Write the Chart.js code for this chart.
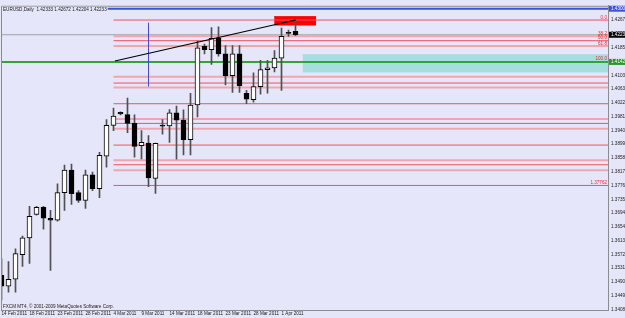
<!DOCTYPE html>
<html>
<head>
<meta charset="utf-8">
<style>
  html, body { margin: 0; padding: 0; background: #e6e6fa; }
  canvas { display: block; }
</style>
</head>
<body>
<canvas id="myChart" width="625" height="318"></canvas>
<script src="https://cdn.jsdelivr.net/npm/chart.js"></script>
<script>
// EURUSD daily, FXCM feed (sunday bars included), 14 Feb 2011 .. 4 Apr 2011
const opens  = [1.35095, 1.34773, 1.34978, 1.35708, 1.36205, 1.36906, 1.37111, 1.36789, 1.36731, 1.37549,
                1.38221, 1.37549, 1.37315, 1.38075, 1.37666, 1.38630, 1.39544, 1.39930, 1.39865, 1.39603,
                1.38942, 1.39018, 1.37967, 1.39527, 1.39527, 1.39915, 1.39702, 1.39118, 1.40149, 1.41893,
                1.41794, 1.42135, 1.41668, 1.41016, 1.41668, 1.40499, 1.40304, 1.40695, 1.41200, 1.41250,
                1.41542, 1.42281, 1.42333];
const highs  = [1.35591, 1.35504, 1.35884, 1.36263, 1.37140, 1.37140, 1.37140, 1.37023, 1.37812, 1.38367,
                1.38396, 1.37607, 1.38221, 1.38162, 1.38746, 1.39719, 1.40061, 1.39944, 1.40353, 1.39857,
                1.39389, 1.39243, 1.39020, 1.39719, 1.40012, 1.40120, 1.40003, 1.40499, 1.42048, 1.41960,
                1.42448, 1.42465, 1.41910, 1.41910, 1.41910, 1.40587, 1.41104, 1.41472, 1.41472, 1.41764,
                1.42428, 1.42369, 1.42672];
const lows   = [1.34364, 1.34598, 1.34598, 1.35358, 1.35445, 1.36877, 1.36468, 1.35241, 1.36702, 1.37023,
                1.37198, 1.37257, 1.37081, 1.37607, 1.37403, 1.38308, 1.39389, 1.39857, 1.39331, 1.38600,
                1.38551, 1.37724, 1.37528, 1.39281, 1.39039, 1.38542, 1.38668, 1.38668, 1.39798, 1.41668,
                1.41355, 1.41601, 1.40742, 1.40520, 1.40520, 1.40187, 1.40236, 1.40470, 1.40499, 1.41133,
                1.40578, 1.42185, 1.42204];
const closes = [1.34773, 1.34978, 1.35738, 1.36205, 1.36848, 1.37111, 1.36789, 1.36731, 1.37549, 1.38221,
                1.37520, 1.37315, 1.38075, 1.37666, 1.38659, 1.39544, 1.39819, 1.39886, 1.39603, 1.38922,
                1.39039, 1.37987, 1.39009, 1.39521, 1.39915, 1.39702, 1.39118, 1.40149, 1.41843, 1.41794,
                1.42127, 1.41668, 1.41016, 1.41668, 1.40724, 1.40324, 1.40695, 1.41200, 1.41250, 1.41542,
                1.42185, 1.42276, 1.42233];

// one date label every 4 bars
const dateLabels = ['14 Feb 2011', '18 Feb 2011', '23 Feb 2011', '28 Feb 2011', '4 Mar 2011', '9 Mar 2011',
                    '14 Mar 2011', '18 Mar 2011', '23 Mar 2011', '28 Mar 2011', '1 Apr 2011'];
const priceTicks = [1.4267, 1.4226, 1.4185, 1.4144, 1.4103, 1.4063, 1.4022, 1.3981, 1.3940, 1.3899, 1.3858,
                    1.3817, 1.3776, 1.3735, 1.3694, 1.3654, 1.3613, 1.3572, 1.3531, 1.3490, 1.3449, 1.3408];

// drawn objects
const redLevels  = [1.42670, 1.42057, 1.40800, 1.40187, 1.39603, 1.38960, 1.38376, 1.37762];
const pinkLevels = [1.42188, 1.41896, 1.40990, 1.40669, 1.39734, 1.39442, 1.38507, 1.38215];
const fibLevels  = [1.42670, 1.42188, 1.42057, 1.41896, 1.41428];
const fibNames   = ['0.0', '38.2', '50.0', '61.8', '100.0'];
const levelStart = 16;          // bar index where the levels start
const supportPrice = 1.37762;
const bidPrice   = 1.42233;
const bluePrice  = 1.43006;
const greenPrice = 1.41428;
const trendLine  = [[16.2, 1.41455], [42, 1.42672]];
const blueVLine  = [21, 1.40695, 1.42594];      // bar, low, high
const redBox     = [38.95, 44.95, 1.42507, 1.42770];
const tealBox    = [43.0, 90, 1.41113, 1.41639];

const header = 'EURUSD,Daily  1.42333 1.42672 1.42204 1.42233';
const copyright = 'FXCM MT4, \u00A9 2001-2009 MetaQuotes Software Corp.';

const xMin = -0.0714;
const xMax = 86.643;
const yMin = 1.340665;
const yMax = 1.430936;

const FONT = '"Liberation Sans", Arial, sans-serif';
Chart.defaults.font.family = FONT;
Chart.defaults.font.size = 4.6;
Chart.defaults.color = '#202020';

const idx = opens.map((_, i) => i);

function hline(v, x0, x1, color, w, order) {
    return { type: 'line', data: [{x: x0, y: v}, {x: x1, y: v}], borderColor: color,
             borderWidth: w, pointRadius: 0, fill: false, order: order };
}
function box(b, color) {
    return { type: 'line', data: [{x: b[0], y: b[3]}, {x: b[1], y: b[3]}], fill: {value: b[2]},
             backgroundColor: color, borderColor: color, borderWidth: 1, pointRadius: 0, order: 30 };
}

const datasets = [];
datasets.push({
    label: 'body', type: 'bar', grouped: false, order: 1,
    data: idx.map(i => ({x: i, y: [opens[i], closes[i]]})),
    backgroundColor: idx.map(i => closes[i] >= opens[i] ? '#ffffff' : '#000000'),
    borderColor: '#000000', borderWidth: 1, borderSkipped: false, barThickness: 5, minBarLength: 1
});
datasets.push({
    label: 'wick', type: 'bar', grouped: false, order: 2,
    data: idx.map(i => ({x: i, y: [lows[i], highs[i]]})),
    backgroundColor: '#505050', borderWidth: 0, barThickness: 1
});
datasets.push({ type: 'line', data: trendLine.map(p => ({x: p[0], y: p[1]})), borderColor: '#000000',
                borderWidth: 1.2, pointRadius: 0, fill: false, order: 0 });
datasets.push({ type: 'line', data: [{x: blueVLine[0], y: blueVLine[1]}, {x: blueVLine[0], y: blueVLine[2]}],
                borderColor: '#4646c8', borderWidth: 1, pointRadius: 0, fill: false, order: 0 });
redLevels.forEach(v => datasets.push(hline(v, levelStart, xMax, '#f0505a', 1, 10)));
pinkLevels.forEach(v => datasets.push(hline(v, levelStart, xMax, '#f0a5af', 2, 11)));
datasets.push(hline(bidPrice, xMin, xMax, '#a0a0a0', 1, 12));
datasets.push(hline(bluePrice, xMin, xMax, '#3c50e1', 2, 12));
datasets.push(hline(greenPrice, xMin, xMax, '#32a532', 2, 9));
datasets.push(box(redBox, '#ff0000'));
datasets.push(box(tealBox, '#a6dee0'));

const mt4Plugin = {
    id: 'mt4',
    beforeDraw(chart) {
        const c = chart.ctx;
        c.save();
        c.fillStyle = '#e6e6fa';
        c.fillRect(0, 0, chart.width, chart.height);
        c.restore();
    },
    afterDraw(chart) {
        const c = chart.ctx, a = chart.chartArea, y = chart.scales.y;
        c.save();
        c.strokeStyle = '#8c8c8c';
        c.lineWidth = 1;
        c.beginPath();
        c.moveTo(a.left + 0.5, a.bottom);
        c.lineTo(a.left + 0.5, a.top + 0.5);
        c.lineTo(a.right, a.top + 0.5);
        c.stroke();

        c.font = '4.6px ' + FONT;
        c.textAlign = 'left';
        c.textBaseline = 'middle';
        const hw = c.measureText(header).width;
        c.fillStyle = '#e6e6fa';
        c.fillRect(a.left + 1, a.top + 1, hw + 2, 6);
        c.fillStyle = '#202020';
        c.fillText(header, a.left + 2, a.top + 4);
        c.fillText(copyright, a.left + 2, a.bottom - 3);

        c.fillStyle = '#f02828';
        c.textAlign = 'right';
        c.textBaseline = 'bottom';
        fibLevels.forEach((v, k) => c.fillText(fibNames[k], a.right - 1, y.getPixelForValue(v) - 0.5));
        c.fillText(supportPrice.toFixed(5), a.right - 1, y.getPixelForValue(supportPrice) - 0.5);

        [[bluePrice, '#3c50e1'], [bidPrice, '#000000'], [greenPrice, '#289628']].forEach(p => {
            const py = y.getPixelForValue(p[0]);
            c.fillStyle = p[1];
            c.fillRect(a.right + 1, py - 3, chart.width - a.right, 6);
            c.fillStyle = '#ffffff';
            c.textAlign = 'left';
            c.textBaseline = 'middle';
            c.fillText(p[0].toFixed(5), a.right + 3, py);
        });
        c.restore();
    }
};

const ctx = document.getElementById('myChart');
const myChart = new Chart(ctx, {
    type: 'bar',
    data: { datasets: datasets },
    plugins: [mt4Plugin],
    options: {
        responsive: false,
        animation: false,
        events: [],
        layout: { padding: { left: 1, top: 1, right: 0, bottom: 0 } },
        plugins: { legend: { display: false }, tooltip: { enabled: false } },
        scales: {
            x: {
                type: 'linear', min: xMin, max: xMax, offset: false,
                grid: { display: false, drawTicks: false },
                border: { display: true, color: '#8c8c8c' },
                afterBuildTicks: s => { s.ticks = dateLabels.map((d, k) => ({value: k * 4})); },
                ticks: { autoSkip: false, maxRotation: 0, align: 'start', padding: 1,
                         callback: v => dateLabels[Math.round(v / 4)] },
                afterFit: s => { s.height = 8; }
            },
            y: {
                type: 'linear', position: 'right', min: yMin, max: yMax,
                grid: { display: false, drawTicks: false },
                border: { display: true, color: '#8c8c8c' },
                afterBuildTicks: s => { s.ticks = priceTicks.map(v => ({value: v})); },
                ticks: { autoSkip: false, padding: 3, callback: v => v.toFixed(5) },
                afterFit: s => { s.width = 17; }
            }
        }
    }
});
</script>
</body>
</html>
